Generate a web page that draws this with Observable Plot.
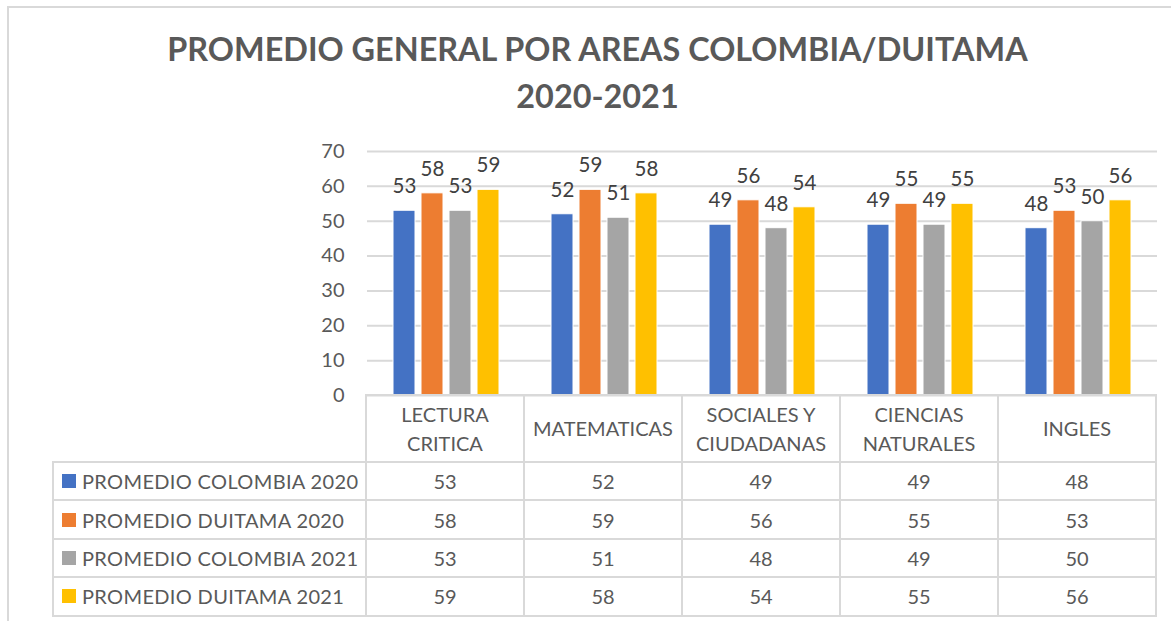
<!DOCTYPE html>
<html><head><meta charset="utf-8">
<script src="https://cdn.jsdelivr.net/npm/d3@7"></script>
<script src="https://cdn.jsdelivr.net/npm/@observablehq/plot@0.6"></script>
<style>
html,body{margin:0;padding:0;background:#fff;}
#wrap{position:relative;width:1171px;height:621px;overflow:hidden;font-family:Lato,"Open Sans",sans-serif;color:#595959;}
#box{position:absolute;left:7px;top:6px;width:1300px;height:800px;border-left:2px solid #d9d9d9;border-top:2px solid #d9d9d9;}
#title{position:absolute;left:0;top:25px;width:1195px;text-align:center;font-weight:700;font-size:32.4px;line-height:47px;color:#595959;}
#chart{position:absolute;left:0;top:130px;}
.cell{position:absolute;box-sizing:border-box;border:2px solid #d9d9d9;display:flex;align-items:center;font-size:20px;color:#595959;}
.c{justify-content:center;text-align:center;}
.lg{letter-spacing:0.35px;}
.sw{display:inline-block;width:14px;height:14px;margin-right:6px;}
</style></head>
<body>
<div id="wrap">
  <div id="box"></div>
  <div id="title">PROMEDIO GENERAL POR AREAS COLOMBIA/DUITAMA<br>2020-2021</div>
  <div id="chart"></div>
  <div id="table"></div>
</div>
<script>
const categories = ["LECTURA CRITICA","MATEMATICAS","SOCIALES Y CIUDADANAS","CIENCIAS NATURALES","INGLES"];
const headerLabels = [["LECTURA","CRITICA"],["MATEMATICAS"],["SOCIALES Y","CIUDADANAS"],["CIENCIAS","NATURALES"],["INGLES"]];
const series = ["PROMEDIO COLOMBIA 2020","PROMEDIO DUITAMA 2020","PROMEDIO COLOMBIA 2021","PROMEDIO DUITAMA 2021"];
const colombia2020 = [53,52,49,49,48];
const duitama2020 = [58,59,56,55,53];
const colombia2021 = [53,51,48,49,50];
const duitama2021 = [59,58,54,55,56];
const seriesValues = [colombia2020, duitama2020, colombia2021, duitama2021];
const colors = ["#4472C4","#ED7D31","#A5A5A5","#FFC000"];
const yTicks = [0,10,20,30,40,50,60,70];

const data = [];
series.forEach((s,i)=>categories.forEach((c,j)=>data.push({cat:c, series:s, value:seriesValues[i][j]})));

const W = 1171, ML = 366, MR = 14, H = 267, MT = 21, MB = 2;
const chart = Plot.plot({
  width: W, height: H, marginTop: MT, marginBottom: MB, marginLeft: ML, marginRight: MR,
  style: {fontFamily: "Lato, 'Open Sans', sans-serif", fontSize: "20px", color: "#595959", background: "transparent", overflow: "visible"},
  fx: {domain: categories, padding: 0, axis: null},
  x: {domain: series, paddingInner: 0.23, paddingOuter: 0.87, axis: null},
  y: {domain: [0, 70], axis: null, label: null},
  color: {domain: series, range: colors},
  marks: [
    Plot.gridY(yTicks, {stroke: "#d9d9d9", strokeOpacity: 1, strokeWidth: 2}),
    Plot.axisY(yTicks, {tickSize: 0, tickPadding: 23, fill: "#595959", fontSize: 20, label: null}),
    Plot.barY(data, {fx: "cat", x: "series", y: "value", fill: "series", stroke: "white", strokeWidth: 1}),
    Plot.text(data, {fx: "cat", x: "series", y: "value", text: d => String(d.value), dy: -24, fill: "#404040", fontSize: 20.5})
  ]
});
document.getElementById("chart").appendChild(chart);

// data table (Excel-style legend table) aligned with the fx bands
const fx = chart.scale("fx");
const colW = fx.step;
const tableLeft = 53;
const colX = categories.map((c, j) => ML + j * colW);
const rowTop = 395, headH = 67, rowH = 38.4;
const tbl = d3.select("#table");
function cell(x, y, w, h, cls) {
  return tbl.append("div").attr("class", "cell " + (cls||""))
    .style("left", (x - 1) + "px").style("top", (y - 1) + "px")
    .style("width", (w + 2) + "px").style("height", (h + 2) + "px");
}
categories.forEach((c, j) => {
  const d = cell(colX[j], rowTop, colW, headH, "c").style("line-height", "29px");
  d.html(headerLabels[j].join("<br>"));
});
series.forEach((s, i) => {
  const y = rowTop + headH + i * rowH;
  const lc = cell(tableLeft, y, ML - tableLeft, rowH, "lg").style("padding-left", "8px");
  lc.append("span").attr("class", "sw").style("background", colors[i]);
  lc.append("span").text(s);
  categories.forEach((c, j) => {
    cell(colX[j], y, colW, rowH, "c").text(seriesValues[i][j]);
  });
});
</script>
</body></html>
